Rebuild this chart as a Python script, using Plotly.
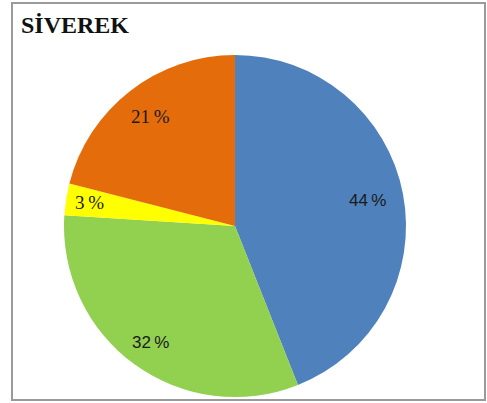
import math
import plotly.graph_objects as go

categories = ["A", "B", "C", "D"]
values = [44, 32, 3, 21]
labels_text = ["44\u2009%", "32\u2009%", "3\u2009%", "21\u2009%"]
colors = ["#4F81BD", "#92D050", "#FFFF00", "#E46C0A"]
title = "SİVEREK"

# label styling / placement (not data)
label_fonts = ["Liberation Sans, Arial", "Liberation Sans, Arial",
               "Liberation Serif, Times New Roman", "Liberation Serif, Times New Roman"]
label_sizes = [17, 17, 19, 19]
label_radius = [0.79, 0.84, 0.86, 0.81]

W, H = 487, 403
cx, cy, r = 235, 226, 171

fig = go.Figure(go.Pie(
    labels=categories,
    values=values,
    sort=False,
    direction="clockwise",
    rotation=0,
    marker=dict(colors=colors, line=dict(width=0)),
    textinfo="none",
    showlegend=False,
    hoverinfo="label+percent",
    domain=dict(x=[(cx - r) / W, (cx + r) / W], y=[1 - (cy + r) / H, 1 - (cy - r) / H]),
))

total = sum(values)
annotations = []
cum = 0
for v, t, fam, sz, fr in zip(values, labels_text, label_fonts, label_sizes, label_radius):
    mid = (cum + v / 2) / total * 2 * math.pi
    cum += v
    rr = fr * r
    px = cx + rr * math.sin(mid)
    py = cy - rr * math.cos(mid)
    annotations.append(dict(text=t, xref="paper", yref="paper", x=px / W, y=1 - py / H,
                            xanchor="center", yanchor="middle", showarrow=False,
                            font=dict(family=fam, size=sz, color="#1a1a1a")))

annotations.append(dict(text="<b>" + title + "</b>", xref="paper", yref="paper",
                        x=19 / W, y=1 - 10 / H, xanchor="left", yanchor="top",
                        showarrow=False,
                        font=dict(family="Liberation Serif, Times New Roman", size=24, color="#111111")))

fig.update_layout(
    width=W, height=H,
    margin=dict(l=0, r=0, t=0, b=0),
    paper_bgcolor="white",
    plot_bgcolor="white",
    shapes=[dict(type="rect", xref="paper", yref="paper",
                 x0=12 / W, x1=485 / W, y0=1 - 400 / H, y1=1 - 3 / H,
                 line=dict(color="#9a9a9a", width=2))],
    annotations=annotations,
)

fig.write_html("out.html", config={"displayModeBar": False},
               post_script="document.body.style.margin='0';document.body.style.overflow='hidden';")
